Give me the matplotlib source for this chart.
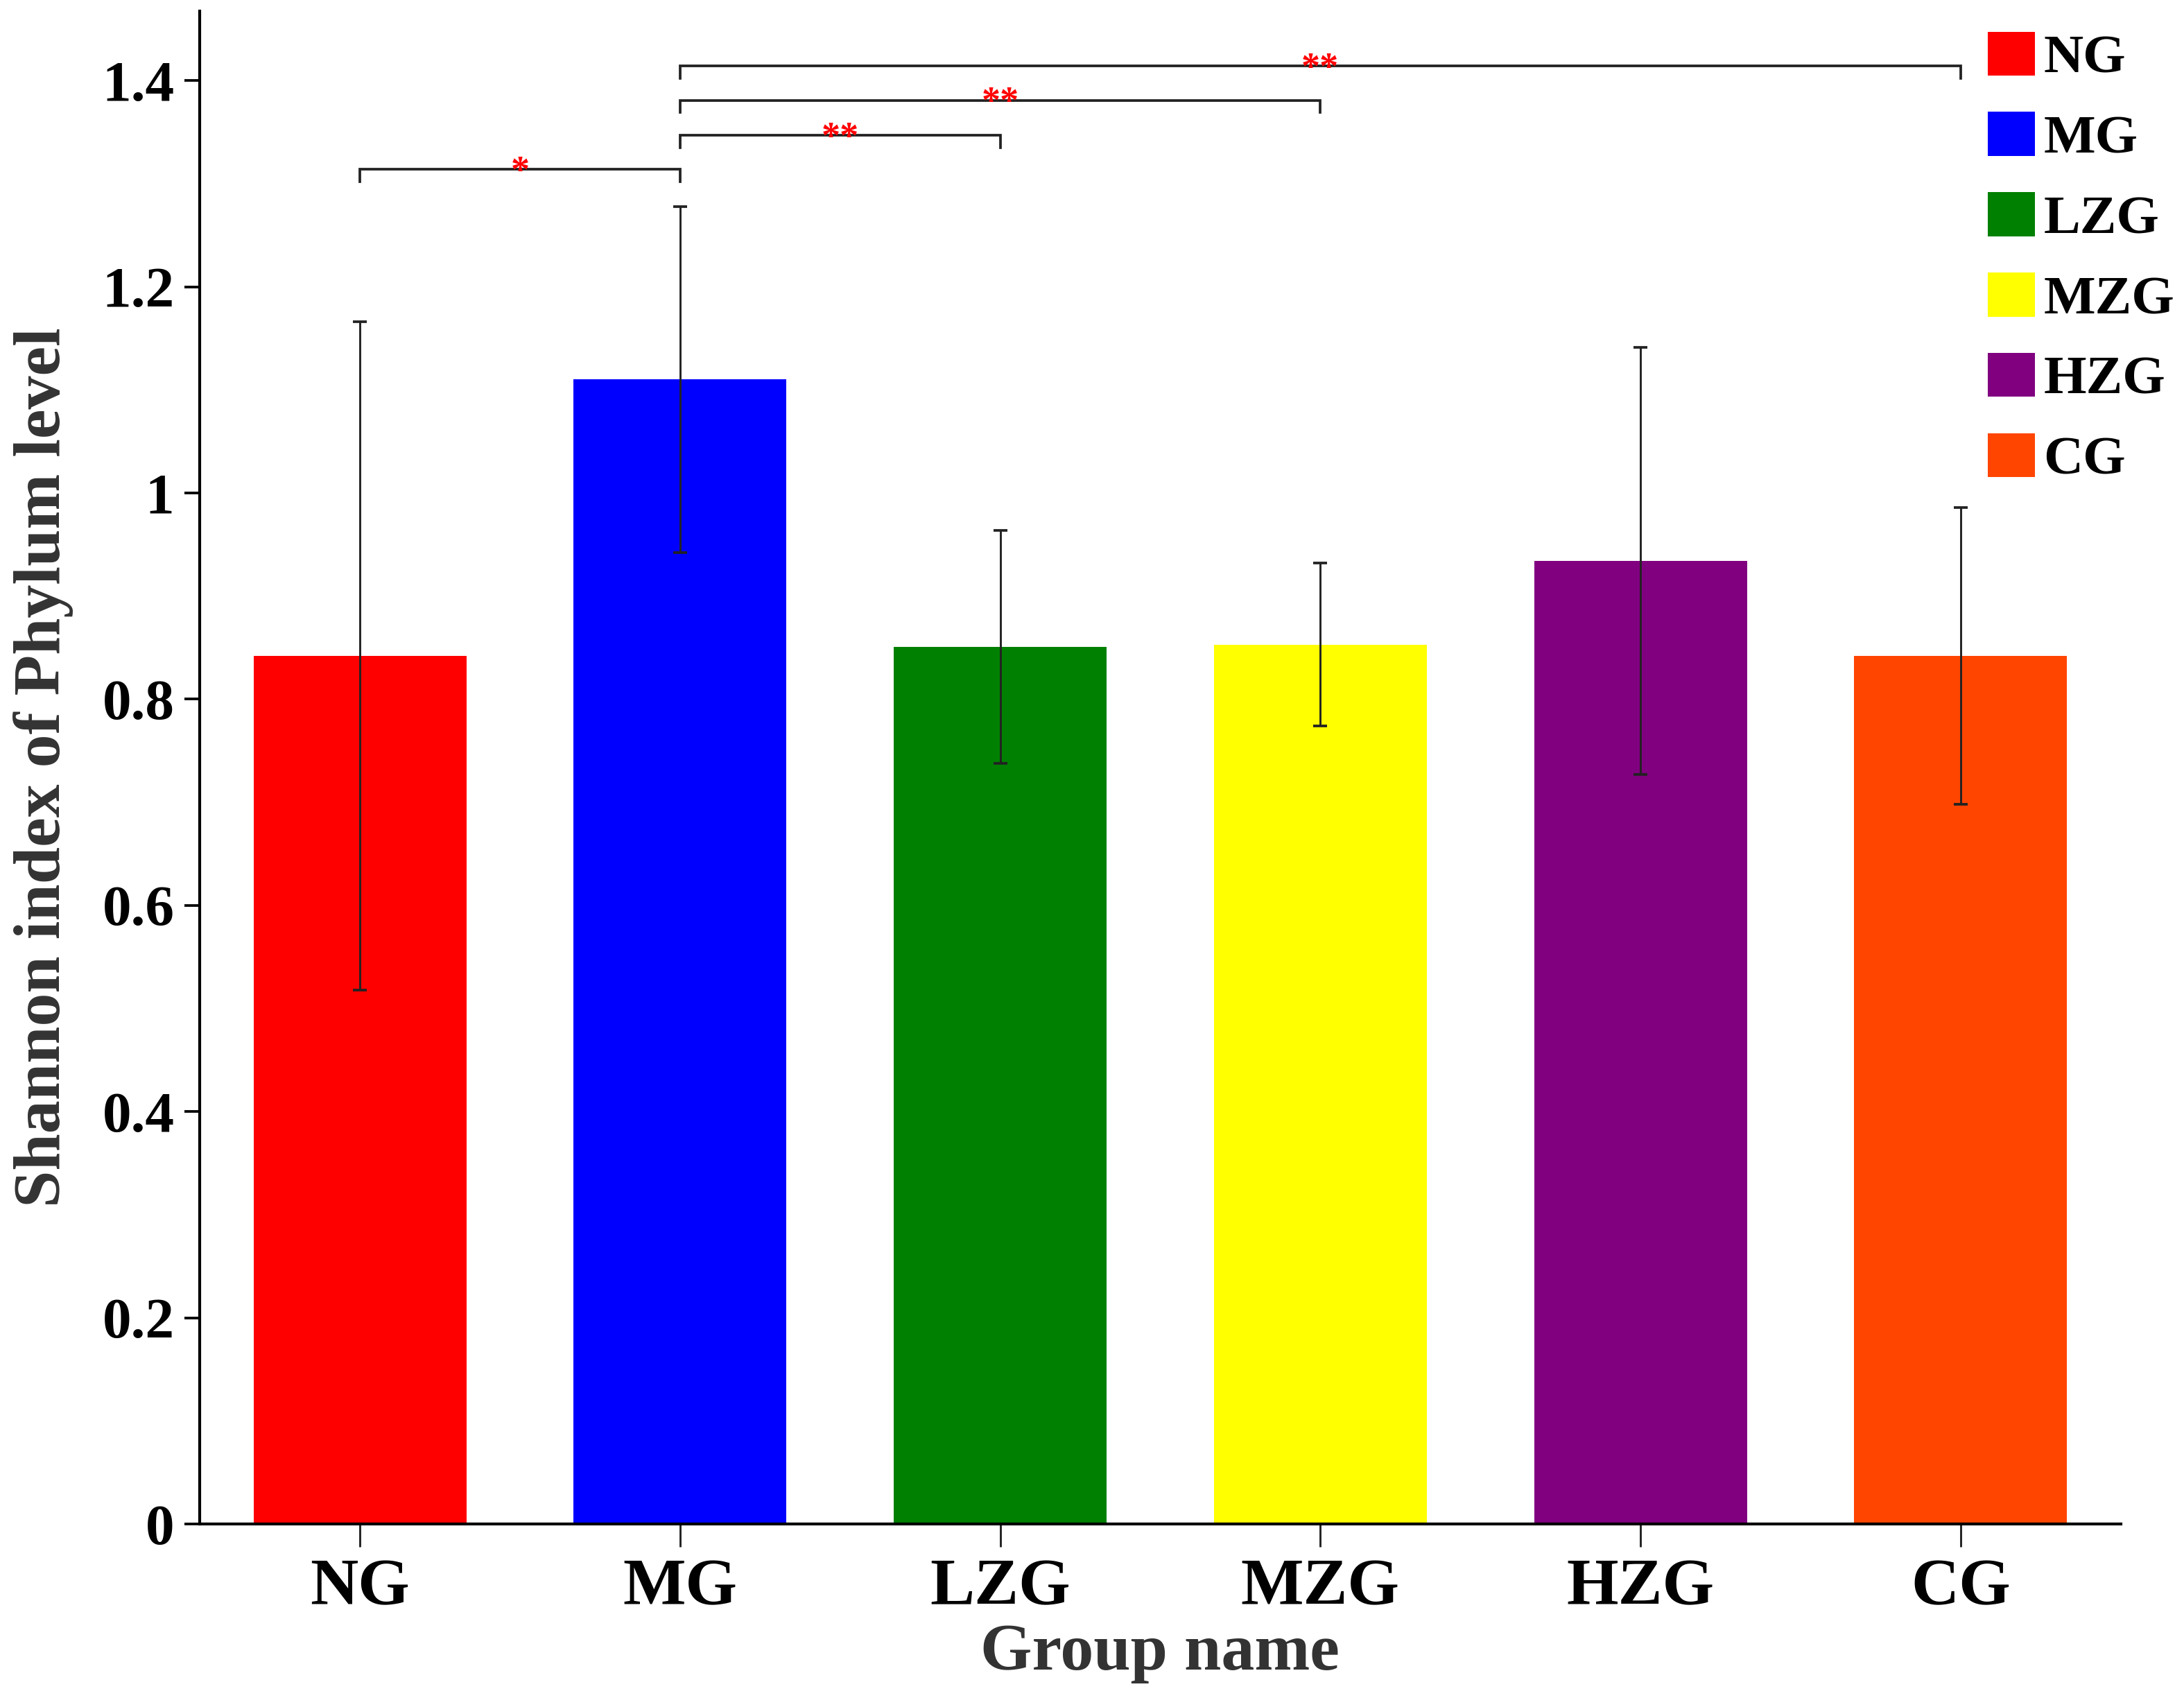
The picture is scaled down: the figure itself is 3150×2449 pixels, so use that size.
import numpy as np
import matplotlib
matplotlib.use('Agg')
import matplotlib.pyplot as plt
from matplotlib.patches import Patch

groups = ['NG', 'MG', 'LZG', 'MZG', 'HZG', 'CG']
shannon = [0.842, 1.110, 0.851, 0.853, 0.934, 0.842]
sd = [0.324, 0.168, 0.113, 0.079, 0.207, 0.144]
colors = ['#ff0000', '#0000ff', '#008000', '#ffff00', '#800080', '#ff4500']

# significance brackets: (left group, right group, height, label)
brackets = [
    (0, 1, 1.314, '*'),
    (1, 2, 1.347, '**'),
    (1, 3, 1.381, '**'),
    (1, 5, 1.414, '**'),
]

plt.rcParams['font.family'] = ['Liberation Serif', 'DejaVu Serif']
plt.rcParams['font.weight'] = 'bold'

fig = plt.figure(figsize=(10.5, 2449 / 300), dpi=300)
ax = fig.add_axes([0.0915, 0.1025, 0.8795, 0.891])

x = np.arange(len(groups))
ax.bar(x, shannon, width=0.665, color=colors, zorder=2)
ax.errorbar(x, shannon, yerr=sd, fmt='none', ecolor='#222222',
            elinewidth=0.7, capsize=2.4, capthick=0.9, zorder=3)

tip = 0.012
for a, b, h, lab in brackets:
    ax.plot([a, a, b, b], [h - tip, h, h, h - tip], color='#222222',
            lw=0.9, zorder=3, solid_joinstyle='miter')
    ax.text((a + b) / 2, h - 0.02, lab, color='red', ha='center',
            va='bottom', fontsize=13, fontweight='bold', zorder=4)

ax.set_xlim(-0.5, 5.5)
ax.set_ylim(0, 1.4675)
ax.set_xticks(x)
ax.set_xticklabels(groups, fontsize=23, fontweight='bold')
ax.set_yticks([0, 0.2, 0.4, 0.6, 0.8, 1.0, 1.2, 1.4])
ax.set_yticklabels(['0', '0.2', '0.4', '0.6', '0.8', '1', '1.2', '1.4'],
                   fontsize=20, fontweight='bold')

for s in ['top', 'right']:
    ax.spines[s].set_visible(False)
for s in ['left', 'bottom']:
    ax.spines[s].set_linewidth(1.0)
ax.tick_params(axis='x', length=8, width=0.7, pad=4, color='#222222')
ax.tick_params(axis='y', length=5.2, width=0.9, pad=3.6)

ax.set_xlabel('Group name', fontsize=23, fontweight='bold', color='#333333', labelpad=2)
ax.set_ylabel('Shannon index of Phylum level', fontsize=23, fontweight='bold',
              color='#333333', labelpad=10)

handles = [Patch(facecolor=c, edgecolor='none') for c in colors]
fig.legend(handles, groups, loc='upper left', bbox_to_anchor=(0.910, 0.9814),
           frameon=False, fontsize=19, handlelength=0.86, handleheight=0.86,
           handletextpad=0.16, labelspacing=0.5, borderpad=0, borderaxespad=0)

fig.savefig('out.png', dpi=300)
